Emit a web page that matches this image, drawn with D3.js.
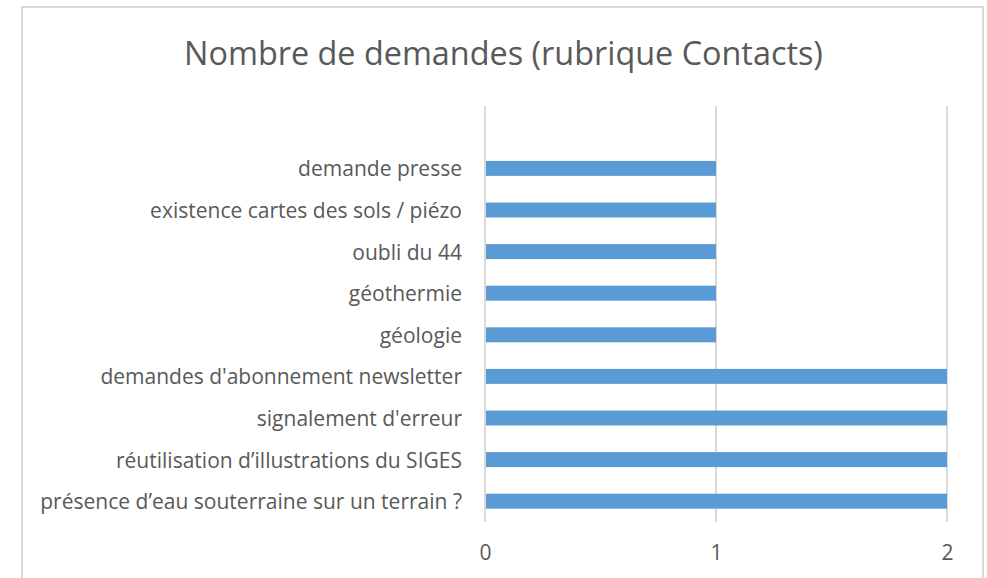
<!DOCTYPE html>
<html><head><meta charset="utf-8">
<script src="https://cdn.jsdelivr.net/npm/d3@7"></script>
<style>html,body{margin:0;padding:0;background:#fff;} svg{display:block;}</style>
</head><body>
<script>
const title = "Nombre de demandes (rubrique Contacts)";
// categories listed top to bottom (top slot is empty in the original)
const categories = [
  "",
  "demande presse",
  "existence cartes des sols / piézo",
  "oubli du 44",
  "géothermie",
  "géologie",
  "demandes d'abonnement newsletter",
  "signalement d'erreur",
  "réutilisation d’illustrations du SIGES",
  "présence d’eau souterraine sur un terrain ?"
];
const values = [null, 1, 1, 1, 1, 1, 2, 2, 2, 2];
const xTicks = [0, 1, 2];

const W = 987, H = 578;
const svg = d3.select("body").append("svg").attr("width", W).attr("height", H);
const font = "Open Sans, Liberation Sans, sans-serif";
const textColor = "#595959";

// chart border
svg.append("rect").attr("x", 22).attr("y", 7).attr("width", 961).attr("height", 620)
  .attr("fill", "#fff").attr("stroke", "#d9d9d9").attr("stroke-width", 2);

const plot = {left: 485, right: 947, top: 106, bottom: 522};
const x = d3.scaleLinear().domain([0, 2]).range([plot.left, plot.right]);
const y = d3.scaleBand().domain(categories.map((c, i) => i)).range([plot.top, plot.bottom]).paddingInner(0.64).paddingOuter(0.32);

// gridlines
svg.append("g").selectAll("line").data(xTicks).join("line")
  .attr("x1", d => x(d)).attr("x2", d => x(d))
  .attr("y1", plot.top).attr("y2", plot.bottom)
  .attr("stroke", "#d9d9d9").attr("stroke-width", 2);

// bars
const data = categories.map((c, i) => ({c, i, v: values[i]})).filter(d => d.v != null);
svg.append("g").selectAll("rect").data(data).join("rect")
  .attr("x", x(0) + 1).attr("y", d => y(d.i))
  .attr("width", d => x(d.v) - x(0) - 1).attr("height", y.bandwidth())
  .attr("fill", "#5b9bd5");

// category labels
const labG = svg.append("g");
const labs = labG.selectAll("text").data(categories.map((c, i) => ({c, i}))).join("text")
  .attr("x", 462).attr("y", d => y(d.i) + y.bandwidth() / 2)
  .attr("text-anchor", "end").attr("dominant-baseline", "central")
  .attr("font-family", font).attr("font-size", 17).attr("fill", textColor)
  .text(d => d.c);
// fit font size so the longest label spans ~422px
const longest = labs.filter(d => d.i === categories.length - 1).node();
const lw = longest.getComputedTextLength();
const labSize = 17 * 422 / lw;
labs.attr("font-size", labSize);

// x axis tick labels
const axis = d3.axisBottom(x).tickValues(xTicks).tickSize(0).tickPadding(0).tickFormat(d3.format("d"));
const ax = svg.append("g").attr("transform", `translate(0,${plot.bottom})`).call(axis);
ax.select(".domain").remove();
ax.selectAll("text").attr("font-family", font).attr("font-size", labSize)
  .attr("fill", textColor).attr("dy", null).attr("y", 30).attr("dominant-baseline", "central");

// title
const t = svg.append("text").attr("x", 503.5).attr("y", 52).attr("text-anchor", "middle")
  .attr("dominant-baseline", "central")
  .attr("font-family", font).attr("font-size", 28).attr("fill", textColor).text(title);
const tw = t.node().getComputedTextLength();
t.attr("font-size", 28 * 639 / tw);
</script>
</body></html>
